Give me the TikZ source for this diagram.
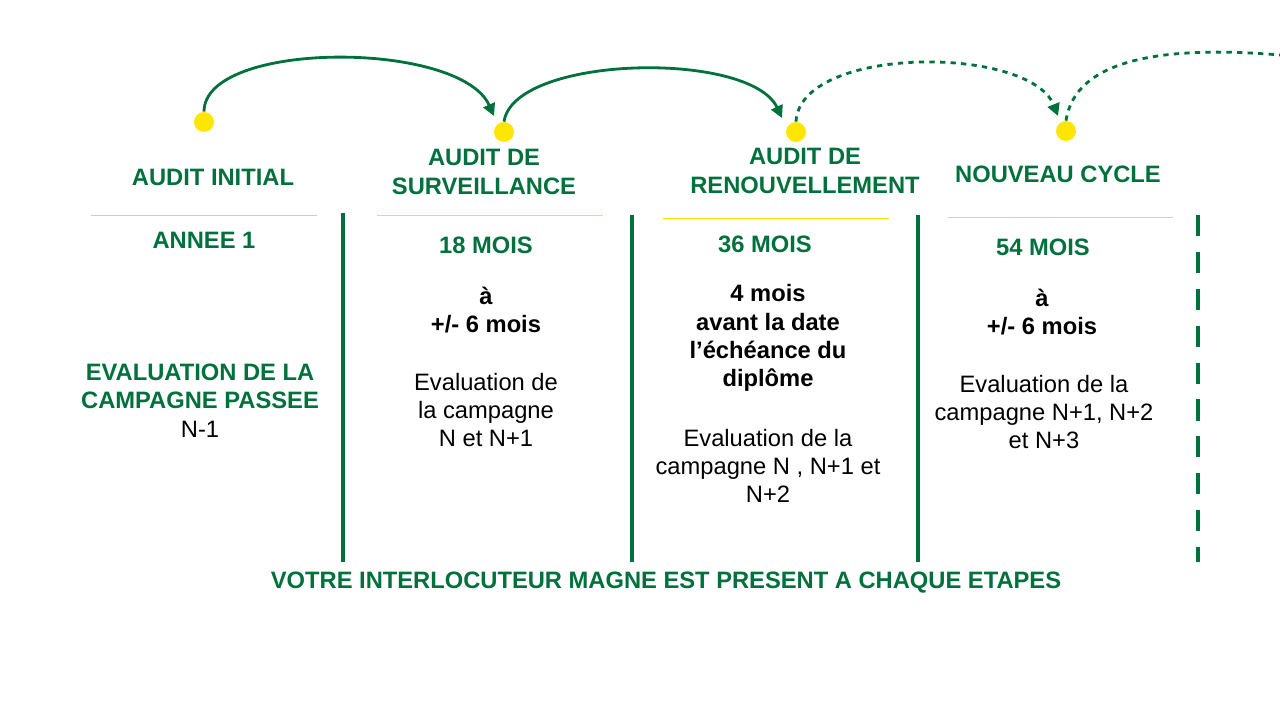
\documentclass[tikz,border=0pt]{standalone}
\usepackage{fontspec}
\setmainfont{Liberation Sans}
\usetikzlibrary{arrows.meta}
\definecolor{magnegreen}{HTML}{00703C}
\definecolor{dotyellow}{HTML}{FFE600}
\tikzset{
  dot/.style={circle,fill=dotyellow,inner sep=0pt,minimum size=0.4cm},
  head/.style={text=magnegreen,font=\fontsize{13.5}{16}\selectfont\bfseries,align=center},
  body/.style={font=\fontsize{13.5}{16}\selectfont,align=center},
  bold/.style={body,font=\fontsize{13.5}{16}\selectfont\bfseries},
  hop/.style={magnegreen,line width=1.6pt,-{Triangle[length=7pt,width=7pt]}},
}
\begin{document}
\begin{tikzpicture}[x=0.02cm,y=-0.02cm]
  \useasboundingbox (0,0) rectangle (1280,720);

  % points of the cycle
  \node[dot] (d1) at (204,122) {};
  \node[dot] (d2) at (504,132) {};
  \node[dot] (d3) at (796,132) {};
  \node[dot] (d4) at (1066,131) {};
  \coordinate (e) at (1280,55);

  \draw[hop] (d1.north) .. controls (204,40) and (460,40) .. (494,116);
  \draw[hop] (d2.north) .. controls (514,55) and (750,50) .. (782,118);
  \draw[hop,dashed] (d3.north) .. controls (800,45) and (1030,45) .. (1058,116);
  \draw[magnegreen,line width=1.6pt,dashed] (d4.north) .. controls (1075,60) and (1160,45) .. (e);

  % titles
  \node[head] (t1) at (213,177) {AUDIT INITIAL};
  \node[head] (t2) at (484,172) {AUDIT DE\\SURVEILLANCE};
  \node[head] (t3) at (805,171) {AUDIT DE\\RENOUVELLEMENT};
  \node[head] (t4) at (1058,174) {NOUVEAU CYCLE};

  \draw[gray!40] (91,215) -- (317,215);
  \draw[dotyellow] (377,215) -- (603,215);
  \draw[dotyellow] (663,218) -- (889,218);
  \draw[gray!40] (948,217) -- (1173,217);

  \foreach \x/\a in {343/213,632/215,918/215}
    \draw[magnegreen,line width=2.2pt] (\x,\a) -- (\x,562);
  \draw[magnegreen,line width=2.2pt,dash pattern=on 12pt off 9pt] (1198,215) -- (1198,562);

  % periods
  \node[head] (p1) at (204,240) {ANNEE 1};
  \node[head] (p2) at (486,245) {18 MOIS};
  \node[head] (p3) at (765,244) {36 MOIS};
  \node[head] (p4) at (1043,247) {54 MOIS};

  \node[head] (c1) at (200,386) {EVALUATION DE LA\\CAMPAGNE PASSEE};
  \node[body] (n1) at (200,429) {N-1};

  \node[bold] (w2) at (486,310) {à\\+/- 6 mois};
  \node[body] (v2) at (486,410) {Evaluation de\\la campagne\\N et N+1};

  \node[bold] (w3) at (768,338) {4 mois\\avant la date\\l’échéance du\\diplôme};
  \node[body] (v3) at (768,466) {Evaluation de la\\campagne N , N+1 et\\N+2};

  \node[bold] (w4) at (1042,312) {à\\+/- 6 mois};
  \node[body] (v4) at (1044,412) {Evaluation de la\\campagne N+1, N+2\\et N+3};

  \node[head] (foot) at (666,583) {VOTRE INTERLOCUTEUR MAGNE EST PRESENT A CHAQUE ETAPES};
\end{tikzpicture}
\end{document}
